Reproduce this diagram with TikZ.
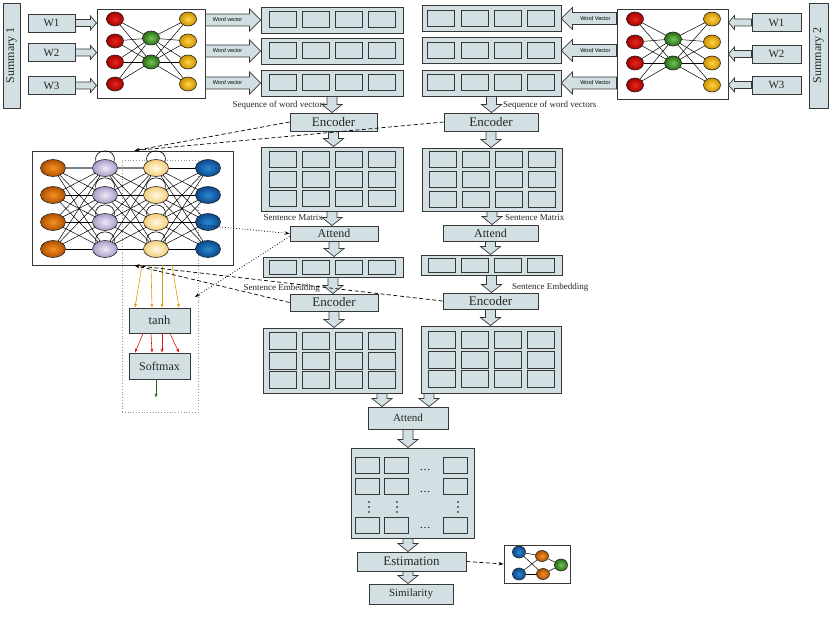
\documentclass[tikz,border=0pt]{standalone}
\usepackage{fontspec}
\setmainfont{Liberation Serif}
\newfontfamily\arialf{Liberation Sans}
\usetikzlibrary{shapes.geometric,arrows.meta,calc}
\definecolor{boxc}{RGB}{211,224,227}
\definecolor{edgec}{RGB}{55,55,55}
\definecolor{redo}{RGB}{165,0,0}\definecolor{redi}{RGB}{232,40,30}
\definecolor{greeno}{RGB}{40,110,20}\definecolor{greeni}{RGB}{115,195,85}
\definecolor{goldo}{RGB}{205,145,0}\definecolor{goldi}{RGB}{255,212,70}
\definecolor{orno}{RGB}{175,80,0}\definecolor{orni}{RGB}{248,145,35}
\definecolor{purpo}{RGB}{168,155,200}\definecolor{purpi}{RGB}{238,233,247}
\definecolor{ylo}{RGB}{243,205,120}\definecolor{yli}{RGB}{255,249,228}
\definecolor{blo}{RGB}{10,72,140}\definecolor{bli}{RGB}{45,135,210}
\definecolor{tipgold}{RGB}{215,160,10}
\definecolor{tipred}{RGB}{220,20,20}
\definecolor{tipgreen}{RGB}{40,100,30}
\newcommand{\vblock}[2]{\draw[barrow] let \p1=(#1), \p2=(#2) in
  (\x1-5pt,\y1) -- (\x1+5pt,\y1) -- (\x1+5pt,\y2+8pt) -- (\x1+10pt,\y2+8pt) -- (\x1,\y2)
  -- (\x1-10pt,\y2+8pt) -- (\x1-5pt,\y2+8pt) -- cycle;}
\newcommand{\rblock}[5]{\draw[barrow] let \p1=(#1), \p2=(#2) in
  (\x1,\y1-#3) -- (\x2-#5,\y1-#3) -- (\x2-#5,\y1-#4) -- (\x2,\y1) -- (\x2-#5,\y1+#4)
  -- (\x2-#5,\y1+#3) -- (\x1,\y1+#3) -- cycle;}
\newcommand{\lblock}[5]{\draw[barrow] let \p1=(#1), \p2=(#2) in
  (\x1,\y1-#3) -- (\x2+#5,\y1-#3) -- (\x2+#5,\y1-#4) -- (\x2,\y1) -- (\x2+#5,\y1+#4)
  -- (\x2+#5,\y1+#3) -- (\x1,\y1+#3) -- cycle;}
\begin{document}
\begin{tikzpicture}[x=1pt,y=-1pt,
  box/.style={draw=edgec, fill=boxc, line width=0.9pt, inner sep=0pt, text=black!85},
  cell/.style={draw=edgec, fill=boxc, line width=1pt, inner sep=0pt, minimum width=27pt, minimum height=16pt},
  netbox/.style={draw=edgec, fill=white, line width=0.9pt, inner sep=0pt},
  barrow/.style={draw=edgec, fill=boxc, line width=0.7pt, line join=miter},
  neuron/.style={ellipse, draw=black!85, line width=0.6pt, inner sep=0pt, minimum width=17pt, minimum height=14pt},
  bigneuron/.style={neuron, minimum width=25pt, minimum height=17pt},
  redn/.style={neuron, inner color=redi, outer color=redo},
  greenn/.style={neuron, inner color=greeni, outer color=greeno},
  goldn/.style={neuron, inner color=goldi, outer color=goldo},
  ornn/.style={bigneuron, inner color=orni, outer color=orno},
  purpn/.style={bigneuron, inner color=purpi, outer color=purpo},
  yln/.style={bigneuron, inner color=yli, outer color=ylo},
  bln/.style={bigneuron, inner color=bli, outer color=blo},
  nedge/.style={black, line width=0.5pt},
  wv/.style={font=\arialf\fontsize{5.5}{6}\selectfont, inner sep=0pt},
  small/.style={font=\fontsize{9}{10}\selectfont, inner sep=0pt, text=black!85},
  dashedarrow/.style={dash pattern=on 4pt off 2.5pt, line width=0.7pt, -{Stealth[length=5pt,width=3.5pt]}},
  dotarrow/.style={dotted, line width=0.8pt, -{Stealth[length=5pt,width=3.5pt]}},
  fan/.style={line width=0.6pt, -{Stealth[length=4pt,width=3pt]}},
  vdot/.style={circle, fill=black, inner sep=0pt, minimum size=1.6pt}
]
\useasboundingbox (0,0) rectangle (830,623);

% ---------- Summaries and word boxes ----------
\node[box, rotate=90, minimum width=105pt, minimum height=17pt, font=\fontsize{12}{13}\selectfont] (sum1) at (11.5,55.5) {Summary 1};
\node[box, rotate=90, minimum width=105pt, minimum height=19pt, font=\fontsize{12}{13}\selectfont] (sum2) at (818.5,55.5) {Summary 2};
\foreach \q/\y in {1/23,2/52.5,3/85.5}{
  \node[box, minimum width=47pt, minimum height=18pt, font=\fontsize{11}{12}\selectfont] (WL\q) at (51.5,\y) {W\q};
}
\foreach \q/\y in {1/22.5,2/54,3/85}{
  \node[box, minimum width=49pt, minimum height=18pt, font=\fontsize{11}{12}\selectfont] (WR\q) at (776.5,\y) {W\q};
}

% ---------- Word networks ----------
\node[netbox, minimum width=108pt, minimum height=89pt] (net1) at (151,53.5) {};
\node[netbox, minimum width=111pt, minimum height=90pt] (net2) at (672.5,54) {};
\foreach \i/\y in {1/19,2/41,3/62,4/84}{
  \node[redn] (n1r\i) at (115,\y) {};
  \node[goldn] (n1y\i) at (188,\y) {};
}
\node[greenn] (n1g1) at (151,38) {};
\node[greenn] (n1g2) at (151,62) {};
\foreach \i/\y in {1/19,2/42,3/63,4/85}{
  \node[redn] (n2r\i) at (635,\y) {};
  \node[goldn] (n2y\i) at (712,\y) {};
}
\node[greenn] (n2g1) at (673,39) {};
\node[greenn] (n2g2) at (673,63) {};
\foreach \i in {1,...,4}{
  \foreach \j in {1,2}{
    \draw[nedge] (n1r\i) -- (n1g\j);
    \draw[nedge] (n1g\j) -- (n1y\i);
    \draw[nedge] (n2r\i) -- (n2g\j);
    \draw[nedge] (n2g\j) -- (n2y\i);
  }
}

% ---------- Word vector rows ----------
\foreach \q/\y in {1/20,2/51,3/83}{
  \node[box, minimum width=142pt, minimum height=26pt] (rowL\q) at (332,\y) {};
  \foreach \k/\dx in {1/-49.5,2/-16.5,3/16.5,4/49.5}
    \node[cell] (rowL\q-\k) at ($(rowL\q)+(\dx,0)$) {};
}
\foreach \q/\y in {1/18.5,2/50.5,3/83}{
  \node[box, minimum width=139pt, minimum height=26pt] (rowR\q) at (491.5,\y) {};
  \foreach \k/\dx in {1/-50.5,2/-17,3/16,4/49.5}
    \node[cell] (rowR\q-\k) at ($(rowR\q)+(\dx,0)$) {};
}

% W arrows and word vector arrows
\foreach \q in {1,2,3}{
  \rblock{WL\q.east}{net1.west |- WL\q.east}{3.5pt}{7pt}{6pt}
  \lblock{WR\q.west}{net2.east |- WR\q.west}{3.5pt}{7pt}{6pt}
  \rblock{net1.east |- rowL\q.west}{rowL\q.west}{6pt}{11pt}{11pt}
  \node[wv] at ($(rowL\q.west)+(-33,0)$) {Word vector};
  \lblock{net2.west |- rowR\q.east}{rowR\q.east}{6pt}{11pt}{11pt}
  \node[wv] at ($(rowR\q.east)+(34,0)$) {Word Vector};
}

\node[small, anchor=east] (seqL) at (326,105) {Sequence of word vectors};
\node[small, anchor=west] (seqR) at (503,105) {Sequence of word vectors};

% ---------- Encoders 1 ----------
\node[box, minimum width=87pt, minimum height=18pt, font=\fontsize{13}{14}\selectfont] (Enc1L) at (333.5,122) {Encoder};
\node[box, minimum width=94pt, minimum height=18pt, font=\fontsize{13}{14}\selectfont] (Enc1R) at (491,122) {Encoder};
\vblock{rowL3.south}{Enc1L.north}
\vblock{rowR3.south}{Enc1R.north}

% ---------- Sentence matrices 1 ----------
\node[box, minimum width=142pt, minimum height=64pt] (Mat1L) at (332,179) {};
\node[box, minimum width=140pt, minimum height=63pt] (Mat1R) at (492,179.5) {};
\foreach \m in {Mat1L,Mat1R}{
  \foreach \r/\dy in {1/-19.5,2/0,3/19.5}{
    \foreach \k/\dx in {1/-49.5,2/-16.5,3/16.5,4/49.5}
      \node[cell] (\m-\r-\k) at ($(\m)+(\dx,\dy)$) {};
  }
}
\vblock{Enc1L.south}{Mat1L.north}
\vblock{Enc1R.south}{Mat1R.north}
\node[small, anchor=east] (smL) at (323,218) {Sentence Matrix};
\node[small, anchor=west] (smR) at (505,218) {Sentence Matrix};

% ---------- Attend 1 ----------
\node[box, minimum width=88pt, minimum height=15pt, font=\fontsize{12}{13}\selectfont] (Att1L) at (334,233.5) {Attend};
\node[box, minimum width=95pt, minimum height=16pt, font=\fontsize{12}{13}\selectfont] (Att1R) at (490.5,233) {Attend};
\vblock{Mat1L.south}{Att1L.north}
\vblock{Mat1R.south}{Att1R.north}

% ---------- Sentence embeddings ----------
\node[box, minimum width=140pt, minimum height=20pt] (Emb1L) at (333,267) {};
\node[box, minimum width=141pt, minimum height=20pt] (Emb1R) at (491.5,265) {};
\foreach \m in {Emb1L,Emb1R}{
  \foreach \k/\dx in {1/-50,2/-17,3/16,4/49}
    \node[cell, minimum height=14pt] (\m-\k) at ($(\m)+(\dx,0)$) {};
}
\vblock{Att1L.south}{Emb1L.north}
\vblock{Att1R.south}{Emb1R.north}

% ---------- Encoders 2 ----------
\node[box, minimum width=88pt, minimum height=17pt, font=\fontsize{13}{14}\selectfont] (Enc2L) at (334,302.5) {Encoder};
\node[box, minimum width=95pt, minimum height=16pt, font=\fontsize{13}{14}\selectfont] (Enc2R) at (490.5,301) {Encoder};
\vblock{Emb1L.south}{Enc2L.north}
\vblock{Emb1R.south}{Enc2R.north}
\node[small, anchor=east] (seL) at (320,288) {Sentence Embedding};
\node[small, anchor=west] (seR) at (512,287) {Sentence Embedding};

% ---------- Matrices 2 ----------
\node[box, minimum width=139pt, minimum height=65pt] (Mat2L) at (332.5,360.5) {};
\node[box, minimum width=140pt, minimum height=67pt] (Mat2R) at (491,359.5) {};
\foreach \m in {Mat2L,Mat2R}{
  \foreach \r/\dy in {1/-19.5,2/0,3/19.5}{
    \foreach \k/\dx in {1/-49.5,2/-16.5,3/16.5,4/49.5}
      \node[cell, minimum height=17pt] (\m-\r-\k) at ($(\m)+(\dx,\dy)$) {};
  }
}
\vblock{Enc2L.south}{Mat2L.north}
\vblock{Enc2R.south}{Mat2R.north}

% ---------- Attend 2 ----------
\node[box, minimum width=80pt, minimum height=22pt, font=\fontsize{11}{12}\selectfont] (Att2) at (408,418) {Attend};
\vblock{$(Mat2L.south)+(49.5,0)$}{Att2.north}
\vblock{$(Mat2R.south)+(-62,0)$}{Att2.north}

% ---------- Big matrix ----------
\node[box, minimum width=123pt, minimum height=90pt] (Big) at (412.5,493) {};
\foreach \r/\dy in {1/-28,2/-6.5,4/32.5}{
  \foreach \k/\dx in {1/-45,2/-16.5,3/42.5}
    \node[cell, minimum width=24pt] (Big-\r-\k) at ($(Big)+(\dx,\dy)$) {};
}
\foreach \dy in {-23,-1,35}
  \node[inner sep=0.5pt, font=\fontsize{11}{12}\selectfont] at ($(Big)+(12.5,\dy)$) {\dots};
\foreach \dx in {-43.5,-15.5,45.5}{
  \foreach \ddy in {9,14,19}
    \node[vdot] at ($(Big)+(\dx,\ddy)$) {};
}
\vblock{Att2.south}{Big.north}

% ---------- Estimation / Similarity ----------
\node[box, minimum width=109pt, minimum height=19pt, font=\fontsize{13}{14}\selectfont] (Est) at (411.5,561.5) {Estimation};
\node[box, minimum width=84pt, minimum height=20pt, font=\fontsize{11}{12}\selectfont] (Sim) at (411,594) {Similarity};
\vblock{$(Big.south)+(-4.5,0)$}{Est.north}
\vblock{$(Est.south)+(-3.5,0)$}{Sim.north}

\node[netbox, minimum width=66pt, minimum height=38pt] (snet) at (537,564) {};
\node[neuron, minimum width=13pt, minimum height=12pt, inner color=bli, outer color=blo] (sb1) at (519,552) {};
\node[neuron, minimum width=13pt, minimum height=12pt, inner color=bli, outer color=blo] (sb2) at (519,574) {};
\node[neuron, minimum width=13pt, minimum height=11pt, inner color=orni, outer color=orno] (so1) at (542,556) {};
\node[neuron, minimum width=13pt, minimum height=11pt, inner color=orni, outer color=orno] (so2) at (543,574) {};
\node[neuron, minimum width=13pt, minimum height=12pt, inner color=greeni, outer color=greeno] (sg) at (561,565) {};
\foreach \a/\b in {sb1/so1,sb1/so2,sb2/so1,sb2/so2,so1/sg,so2/sg}
  \draw[nedge] (\a) -- (\b);
\draw[dashedarrow] (Est.east) -- (snet.west);

% ---------- Big attention network ----------
\node[netbox, minimum width=201pt, minimum height=114pt] (bignet) at (132.5,208) {};
\node[draw=gray!80, dotted, line width=0.8pt, minimum width=76pt, minimum height=252pt, inner sep=0pt] (attn) at (160,286) {};
\foreach \i/\y in {1/168,2/195,3/222,4/249}{
  \node[ornn] (bo\i) at (53,\y) {};
  \node[purpn] (bp\i) at (105,\y) {};
  \node[yln] (by\i) at (156,\y) {};
  \node[bln] (bb\i) at (208,\y) {};
}
\foreach \i in {1,...,4}{
  \foreach \j in {1,...,4}{
    \draw[nedge] (bo\i) -- (bp\j);
    \draw[nedge] (bp\i) -- (by\j);
    \draw[nedge] (by\i) -- (bb\j);
  }
  \draw[nedge, line width=0.6pt] (bp\i.145) .. controls +(255:15) and +(285:15) .. (bp\i.35);
  \draw[nedge, line width=0.6pt] (by\i.145) .. controls +(255:15) and +(285:15) .. (by\i.35);
}
\draw[gray, line width=1.6pt] (bo1) -- (bp1);
\draw[gray, line width=1.6pt] (bp1) -- (by1);

\node[box, minimum width=61pt, minimum height=25pt, font=\fontsize{12.5}{13}\selectfont] (tanh) at (159.5,320.5) {tanh};
\node[box, minimum width=61pt, minimum height=26pt, font=\fontsize{12}{13}\selectfont] (soft) at (159.5,366) {Softmax};
\foreach \s/\t in {9.5/-24.5,18.5/-7.5,29.5/2.5,39.5/19.5}
  \draw[fan, tipgold] ($(bignet.south)+(\s,0)$) -- ($(tanh.north)+(\t,0)$);
\foreach \s/\t in {-16.5/-24.5,-8.5/-7.5,2.5/2.5,10.5/19.5}
  \draw[fan, tipred] ($(tanh.south)+(\s,0)$) -- ($(soft.north)+(\t,0)$);
\coordinate (softout) at ($(soft.south)+(-3.5,18)$);
\draw[fan, tipgreen] ($(soft.south)+(-3.5,0)$) -- (softout);

% ---------- Dashed / dotted links ----------
\coordinate (nettop) at ($(bignet.north west)+(103,0)$);
\coordinate (netbot) at ($(bignet.south west)+(103,0)$);
\draw[dashedarrow] (Enc1L.west) -- (nettop);
\draw[dashedarrow] (Enc1R.west) -- (nettop);
\draw[dashedarrow] (Enc2L.west) -- (netbot);
\draw[dashedarrow] (Enc2R.west) -- (netbot);
\coordinate (dotA) at (200,225);
\coordinate (dotB) at (195,297);
\draw[dotarrow] (dotA) -- (Att1L.west);
\draw[dotarrow] ($(Att1L.west)+(0,3)$) -- (dotB);
\end{tikzpicture}
\end{document}
